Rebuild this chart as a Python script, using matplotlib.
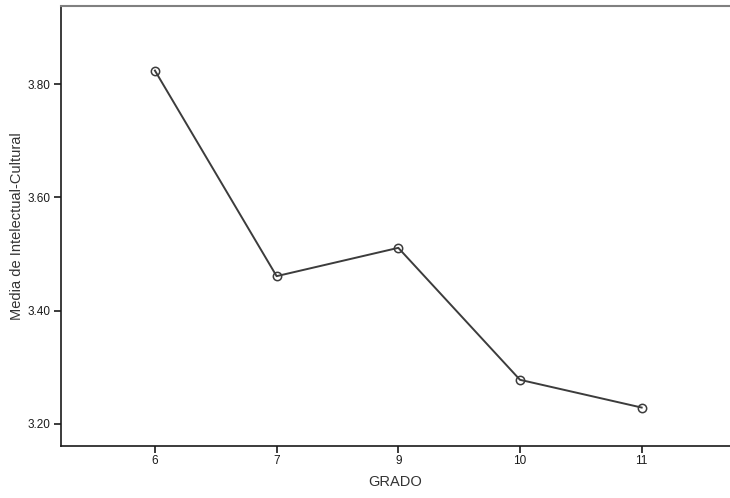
import matplotlib
matplotlib.use("Agg")
import matplotlib.pyplot as plt

grados = ["6", "7", "9", "10", "11"]
medias = [3.824, 3.461, 3.511, 3.278, 3.229]
yticks = [3.20, 3.40, 3.60, 3.80]

plt.rcParams['font.family'] = ['Liberation Sans', 'DejaVu Sans']

fig = plt.figure(figsize=(7.3, 4.98), dpi=100)
ax = fig.add_axes([60.5/730, (498-445.5)/498, 1 - 60.5/730, (445.5-6)/498])

xs = list(range(len(grados)))
ax.plot(xs, medias, color='#3c3c3c', lw=1.4, marker='o', ms=6,
        mfc='none', mec='#3c3c3c', mew=1.1)

ax.set_xlim(-0.776, len(grados) - 1 + 0.726)
ax.set_ylim(3.162, 3.938)
ax.set_xticks(xs)
ax.set_xticklabels(grados)
ax.set_yticks(yticks)
ax.set_yticklabels([f"{v:.2f}" for v in yticks])

ax.spines['right'].set_visible(False)
ax.spines['top'].set_color('#808080')
ax.spines['top'].set_linewidth(1.5)
ax.spines['left'].set_color('#1a1a1a')
ax.spines['bottom'].set_color('#1a1a1a')
ax.spines['left'].set_linewidth(1.2)
ax.spines['bottom'].set_linewidth(1.2)

ax.tick_params(axis='both', direction='out', length=5, width=1.2, color='#1a1a1a',
               labelsize=8.5, labelcolor='#1a1a1a', pad=2)

ax.set_xlabel("GRADO", fontsize=10.5, color='#333333', labelpad=5.5)
ax.set_ylabel("Media de Intelectual-Cultural", fontsize=10.5, color='#333333')
ax.yaxis.set_label_coords(-0.055, 0.5)

fig.savefig("out.png", dpi=100)
